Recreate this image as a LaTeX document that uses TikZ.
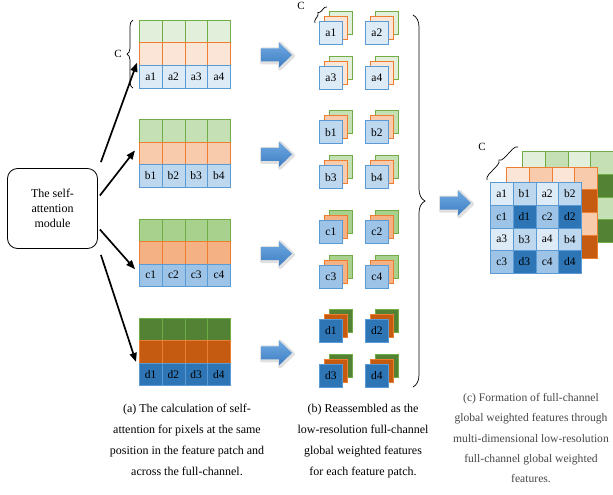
\documentclass[tikz,border=0pt]{standalone}
\usepackage{fontspec}
\setmainfont{Liberation Serif}
\usetikzlibrary{decorations.pathreplacing,calc,arrows.meta}

% channel colours: g = green, o = orange, b = blue; A..D = light to dark
\definecolor{gA}{HTML}{E2EFDA}\definecolor{oA}{HTML}{FBE5D6}\definecolor{bA}{HTML}{DDEBF7}
\definecolor{gB}{HTML}{C5E0B4}\definecolor{oB}{HTML}{F8CBAD}\definecolor{bB}{HTML}{BDD7EE}
\definecolor{gC}{HTML}{A9D18E}\definecolor{oC}{HTML}{F4B183}\definecolor{bC}{HTML}{9DC3E6}
\definecolor{gD}{HTML}{548235}\definecolor{oD}{HTML}{C55A11}\definecolor{bD}{HTML}{2E75B6}
\definecolor{gE}{HTML}{70AD47}\definecolor{oE}{HTML}{ED7D31}\definecolor{bE}{HTML}{5B9BD5}
\definecolor{arrTop}{HTML}{6FAAE2}\definecolor{arrBot}{HTML}{3F7DC2}

\tikzset{
  cellbox/.style={draw, line width=0.7pt, minimum width=22.75pt, minimum height=22.5pt,
    inner sep=0pt, anchor=north west, font=\fontsize{11.5}{12}\selectfont},
  gridbox/.style={cellbox, minimum height=22.75pt},
  sqbox/.style={draw, line width=0.8pt, minimum size=23pt, inner sep=0pt,
    anchor=north west, font=\fontsize{11.5}{12}\selectfont},
  bracestyle/.style={line width=0.7pt, decorate},
  clabel/.style={font=\fontsize{11}{12}\selectfont, inner sep=0pt},
  blackarrow/.style={line width=1.7pt, -{Triangle[length=9pt,width=7pt]}},
  caption/.style={anchor=north, align=center, inner sep=0pt, font=\fontsize{12}{21}\selectfont},
  fatarr/.pic={
    \path[draw=black, opacity=0.12, line width=4pt, line join=round]
      (1,-5.5) -- (19,-5.5) -- (19,-11.5) -- (32,1) -- (19,13.5) -- (19,7.5) -- (1,7.5) -- cycle;
    \path[top color=arrTop, bottom color=arrBot]
      (0,-6.5) -- (18,-6.5) -- (18,-12.5) -- (31,0) -- (18,12.5) -- (18,6.5) -- (0,6.5) -- cycle;
  }
}

\begin{document}
\begin{tikzpicture}[x=1pt,y=-1pt]
\useasboundingbox (0,0) rectangle (613,495);

% self-attention module
\node[draw, rounded corners=10pt, line width=0.8pt, minimum width=90pt, minimum height=80pt,
  align=center, font=\fontsize{12}{15}\selectfont] (module) at (52.5,208.5)
  {The self-\\attention\\module};

% feature strips (three channels x four positions) for patches a-d
\foreach \r/\l/\s in {0/a/A,1/b/B,2/c/C,3/d/D}{
  \pgfmathsetmacro{\ty}{20+99.3*\r}
  \foreach \k in {1,...,4}{
    \pgfmathsetmacro{\tx}{139+22.75*(\k-1)}
    \node[cellbox, draw=gE, fill=g\s] (s\l-g\k) at (\tx,\ty) {};
    \node[cellbox, draw=oE, fill=o\s] (s\l-o\k) at (\tx,\ty+22.5) {};
    \node[cellbox, draw=bE, fill=b\s] (s\l-b\k) at (\tx,\ty+45) {\l\k};
  }
  % block arrow towards the reassembled stacks
  \pic at (261,{55+99.3*\r}) {fatarr};
  % stacked low-resolution features
  \foreach \n/\cx/\cy in {1/319/21,2/365/21,3/319/66,4/365/66}{
    \pgfmathsetmacro{\sy}{\cy+99.3*\r}
    \node[sqbox, draw=gE, fill=g\s] (p\l\n-g) at (\cx+10,\sy-10) {};
    \node[sqbox, draw=oE, fill=o\s] (p\l\n-o) at (\cx+5,\sy-5) {};
    \node[sqbox, draw=bE, fill=b\s] (p\l\n-b) at (\cx,\sy) {\l\n};
  }
}

% channel braces
\draw[bracestyle, decoration={brace, amplitude=6pt}]
  ($(sa-b1.south west)+(-6,0)$) -- ($(sa-g1.north west)+(-6,0)$)
  node[midway, left=11pt, clabel] (cA) {C};
\draw[bracestyle, decoration={brace, amplitude=4pt}]
  ($(pa1-b.north west)+(-4,2)$) -- ($(pa1-g.north west)+(-2,-4)$);
\node[clabel] (cB) at (301,6) {C};

% arrows from the module to the strips
\draw[blackarrow] ([shift={(3,-6)}]module.north east) -- ($(sa-o1.south west)+(-2,-3)$);
\draw[blackarrow] ([shift={(2,-13)}]module.east) -- ($(sb-o1.west)+(-4,-3)$);
\draw[blackarrow] ([shift={(2,21)}]module.east) -- ($(sc-b1.west)+(-4,-6)$);
\draw[blackarrow] ([shift={(3,6)}]module.south east) -- ($(sd-b1.north west)+(-3,-1)$);

% large brace collecting all stacks
\coordinate (bigtop) at (413,15);
\coordinate (bigbot) at (413,387);
\draw[bracestyle, decoration={brace, amplitude=12pt}] (bigtop) -- (bigbot);
\pic at (440,203) {fatarr};

% full-channel global weighted feature map (three layers, 4x4)
\foreach \p/\dx/\dy in {g/32/-31, o/16/-15.5, b/0/0}{
  \foreach \i/\ta/\tb/\la/\lb/\na/\nb in {1/A/B/a/b/1/2, 2/C/D/c/d/1/2, 3/A/B/a/b/3/4, 4/C/D/c/d/3/4}{
    \foreach \j/\t/\lab in {1/\ta/\la\na, 2/\tb/\lb\na, 3/\ta/\la\nb, 4/\tb/\lb\nb}{
      \pgfmathsetmacro{\gx}{490+\dx+22.75*(\j-1)}
      \pgfmathsetmacro{\gy}{182+\dy+22.75*(\i-1)}
      \if\p b
        \node[gridbox, draw=\p E, fill=\p\t] (m\p-\i-\j) at (\gx,\gy) {\lab};
      \else
        \node[gridbox, draw=\p E, fill=\p\t] (m\p-\i-\j) at (\gx,\gy) {};
      \fi
    }
  }
}
\draw[bracestyle, decoration={brace, amplitude=5pt}]
  ($(mb-1-1.north west)+(-3,-2)$) -- ($(mg-1-1.north west)+(-4,-4)$);
\node[clabel] (cC) at (482,147) {C};

% captions
\node[caption] (capa) at (187,404)
  {(a) The calculation of self-\\attention for pixels at the same\\position in the feature patch and\\across the full-channel.};
\node[caption] (capb) at (363,404)
  {(b) Reassembled as the\\low-resolution full-channel\\global weighted features\\for each feature patch.};
\node[caption, text=black!72, font=\fontsize{11.6}{20.4}\selectfont] (capc) at (531,393)
  {(c) Formation of full-channel\\global weighted features through\\multi-dimensional low-resolution\\full-channel global weighted\\features.};
\end{tikzpicture}
\end{document}
